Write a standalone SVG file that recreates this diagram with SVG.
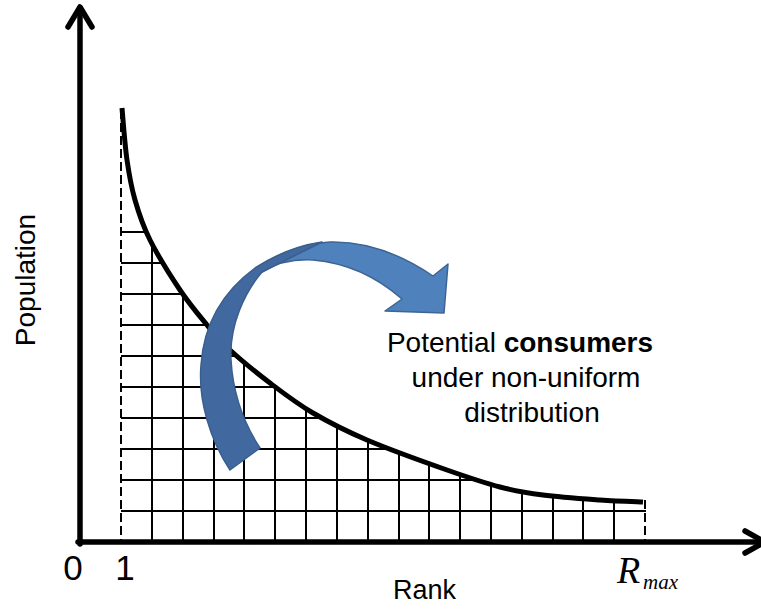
<svg xmlns="http://www.w3.org/2000/svg" width="761" height="609" viewBox="0 0 761 609">
<style>
.axis{fill:none;stroke:#000;stroke-width:5.5;stroke-linecap:round;stroke-linejoin:round}
.grid{stroke:#000;stroke-width:2;fill:none}
.dash{stroke:#000;stroke-width:2;fill:none;stroke-dasharray:9 4}
.curve{fill:none;stroke:#000;stroke-width:5}
.lbl{font-family:"Liberation Sans",Arial,sans-serif;fill:#000}
.light{fill:#4f81bd;stroke:#3d6594;stroke-width:1.5;stroke-linejoin:round}
.dark{fill:#41699f;stroke:#3a5f8e;stroke-width:1.5;stroke-linejoin:round}
</style>
<defs>
<clipPath id="under">
<path d="M119 100 L122 108 C122.8 116.7 124.8 144.7 127 160 C129.2 175.3 131.2 186.7 135 200 C138.8 213.3 142.5 225 150 240 C157.5 255 170.5 275.8 180 290 C189.5 304.2 198.7 315 207 325 C215.3 335 219.5 340.3 230 350 C240.5 359.7 256.2 372.5 270 383 C283.8 393.5 296.8 403.5 313 413 C329.2 422.5 344.7 430.5 367 440 C389.3 449.5 424.8 462.2 447 470 C469.2 477.8 484 482.8 500 487 C516 491.2 526.3 492.8 543 495 C559.7 497.2 583.3 498.8 600 500 C616.7 501.2 635.8 501.7 643 502 L648 502 L648 545 L119 545 Z"/>
</clipPath>
</defs>
<g id="grid" clip-path="url(#under)">
<path class="grid" d="M121 232H646M121 263H646M121 294H646M121 325H646M121 356H646M121 387H646M121 418H646M121 449H646M121 480H646M121 511H646"/>
<path class="grid" d="M152 100V542M183 100V542M214 100V542M244 100V542M275 100V542M306 100V542M337 100V542M368 100V542M399 100V542M429 100V542M460 100V542M491 100V542M522 100V542M553 100V542M583 100V542M614 100V542"/>
</g>
<g id="dashes">
<path class="dash" d="M121 110V542"/>
<path class="dash" d="M645 500V542"/>
</g>
<g id="curve">
<path class="curve" d="M122 108 C122.8 116.7 124.8 144.7 127 160 C129.2 175.3 131.2 186.7 135 200 C138.8 213.3 142.5 225 150 240 C157.5 255 170.5 275.8 180 290 C189.5 304.2 198.7 315 207 325 C215.3 335 219.5 340.3 230 350 C240.5 359.7 256.2 372.5 270 383 C283.8 393.5 296.8 403.5 313 413 C329.2 422.5 344.7 430.5 367 440 C389.3 449.5 424.8 462.2 447 470 C469.2 477.8 484 482.8 500 487 C516 491.2 526.3 492.8 543 495 C559.7 497.2 583.3 498.8 600 500 C616.7 501.2 635.8 501.7 643 502"/>
</g>
<g id="axes">
<path class="axis" d="M80 544V8"/>
<path class="axis" d="M68 27L80 7L92 27"/>
<path class="axis" d="M78 542H764"/>
<path class="axis" d="M745 531L765 542L745 553"/>
</g>
<g id="arrow">
<path class="light" d="M255 276 C280 253 305 243 330 242 C370 241 405 257 433 276 L448 264 L444 313 L385 311 L402 299 C378 278 348 263 313 260 C293 259 276 263 262 272 Z"/>
<path class="dark" d="M230 470 C210 440 198 400 201 365 C204 320 225 290 255 268 C275 255 295 246 322 242 L262 272 C245 292 229 325 231 360 C233 395 245 425 260 448 Z"/>
</g>
<g id="labels">
<text class="lbl" x="73" y="580" font-size="35" text-anchor="middle">0</text>
<text class="lbl" x="125" y="580" font-size="35" text-anchor="middle">1</text>
<text class="lbl" x="393" y="599" font-size="27">Rank</text>
<text class="lbl" x="35" y="280" font-size="28" text-anchor="middle" transform="rotate(-90 35 280)">Population</text>
<text x="617" y="583" font-family="'Liberation Serif','Times New Roman',serif" font-style="italic" font-size="38">R<tspan x="643" y="589" font-size="21">max</tspan></text>
</g>
<g id="note">
<text class="lbl" x="520" y="352" font-size="28" text-anchor="middle">Potential <tspan font-weight="bold">consumers</tspan></text>
<text class="lbl" x="526" y="387" font-size="28" text-anchor="middle">under non-uniform</text>
<text class="lbl" x="532" y="422" font-size="28" text-anchor="middle">distribution</text>
</g>
</svg>
